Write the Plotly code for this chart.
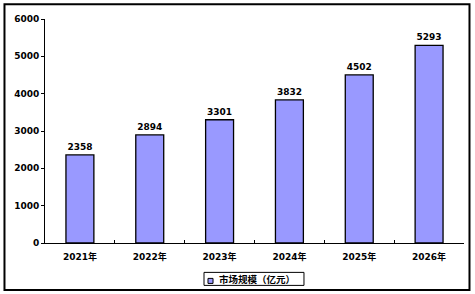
import plotly.graph_objects as go

categories = ["2021年", "2022年", "2023年", "2024年", "2025年", "2026年"]
market_size = [2358, 2894, 3301, 3832, 4502, 5293]
series_name = "市场规模（亿元）"
y_ticks = [0, 1000, 2000, 3000, 4000, 5000, 6000]

FONT = "DejaVu Sans, Noto Sans CJK SC, sans-serif"
BAR_COLOR = "#9999FF"

fig = go.Figure()
fig.add_trace(go.Bar(
    x=categories,
    y=market_size,
    name=series_name,
    marker=dict(color=BAR_COLOR, line=dict(color="#000000", width=1.3)),
    text=[str(v) for v in market_size],
    textposition="outside",
    textfont=dict(family=FONT, size=9, color="#000000", weight="bold"),
    cliponaxis=False,
    showlegend=False,
))

fig.update_layout(
    width=475, height=294,
    margin=dict(l=45, r=11, t=19, b=51, autoexpand=False),
    paper_bgcolor="white",
    plot_bgcolor="white",
    font=dict(family=FONT, size=9, color="#000000", weight="bold"),
    bargap=0.6,
    xaxis=dict(
        showline=True, linecolor="#000000", linewidth=1,
        ticks="inside", ticklen=3, tickcolor="#000000",
        tickson="boundaries",
        ticklabelstandoff=5,
        showgrid=False, zeroline=False,
        tickfont=dict(family=FONT, size=9, color="#000000", weight="bold"),
        fixedrange=True,
    ),
    yaxis=dict(
        range=[0, 6000],
        tickvals=y_ticks,
        showline=True, linecolor="#000000", linewidth=1,
        ticks="outside", ticklen=3, tickcolor="#000000",
        showgrid=False, zeroline=False,
        tickfont=dict(family=FONT, size=9, color="#000000", weight="bold"),
        fixedrange=True,
    ),
    shapes=[
        # outer chart border
        dict(type="rect", xref="paper", yref="paper",
             x0=-0.0967, x1=1.0131, y0=-0.2095, y1=1.0662,
             line=dict(color="#000000", width=2),
             fillcolor="rgba(0,0,0,0)", layer="above"),
        # legend box
        dict(type="rect", xref="paper", yref="paper",
             x0=0.3795, x1=0.6181, y0=-0.1893, y1=-0.1312,
             line=dict(color="#000000", width=1),
             fillcolor="white", layer="above"),
        # legend swatch
        dict(type="rect", xref="paper", yref="paper",
             x0=0.3890, x1=0.4010, y0=-0.1804, y1=-0.1580,
             line=dict(color="#000000", width=1),
             fillcolor=BAR_COLOR, layer="above"),
    ],
    annotations=[dict(
        text=series_name, xref="paper", yref="paper",
        x=0.4095, y=-0.1625, xanchor="left", yanchor="middle",
        showarrow=False,
        font=dict(family=FONT, size=9.5, color="#000000", weight="bold"),
    )],
)

fig.write_html("out.html")
